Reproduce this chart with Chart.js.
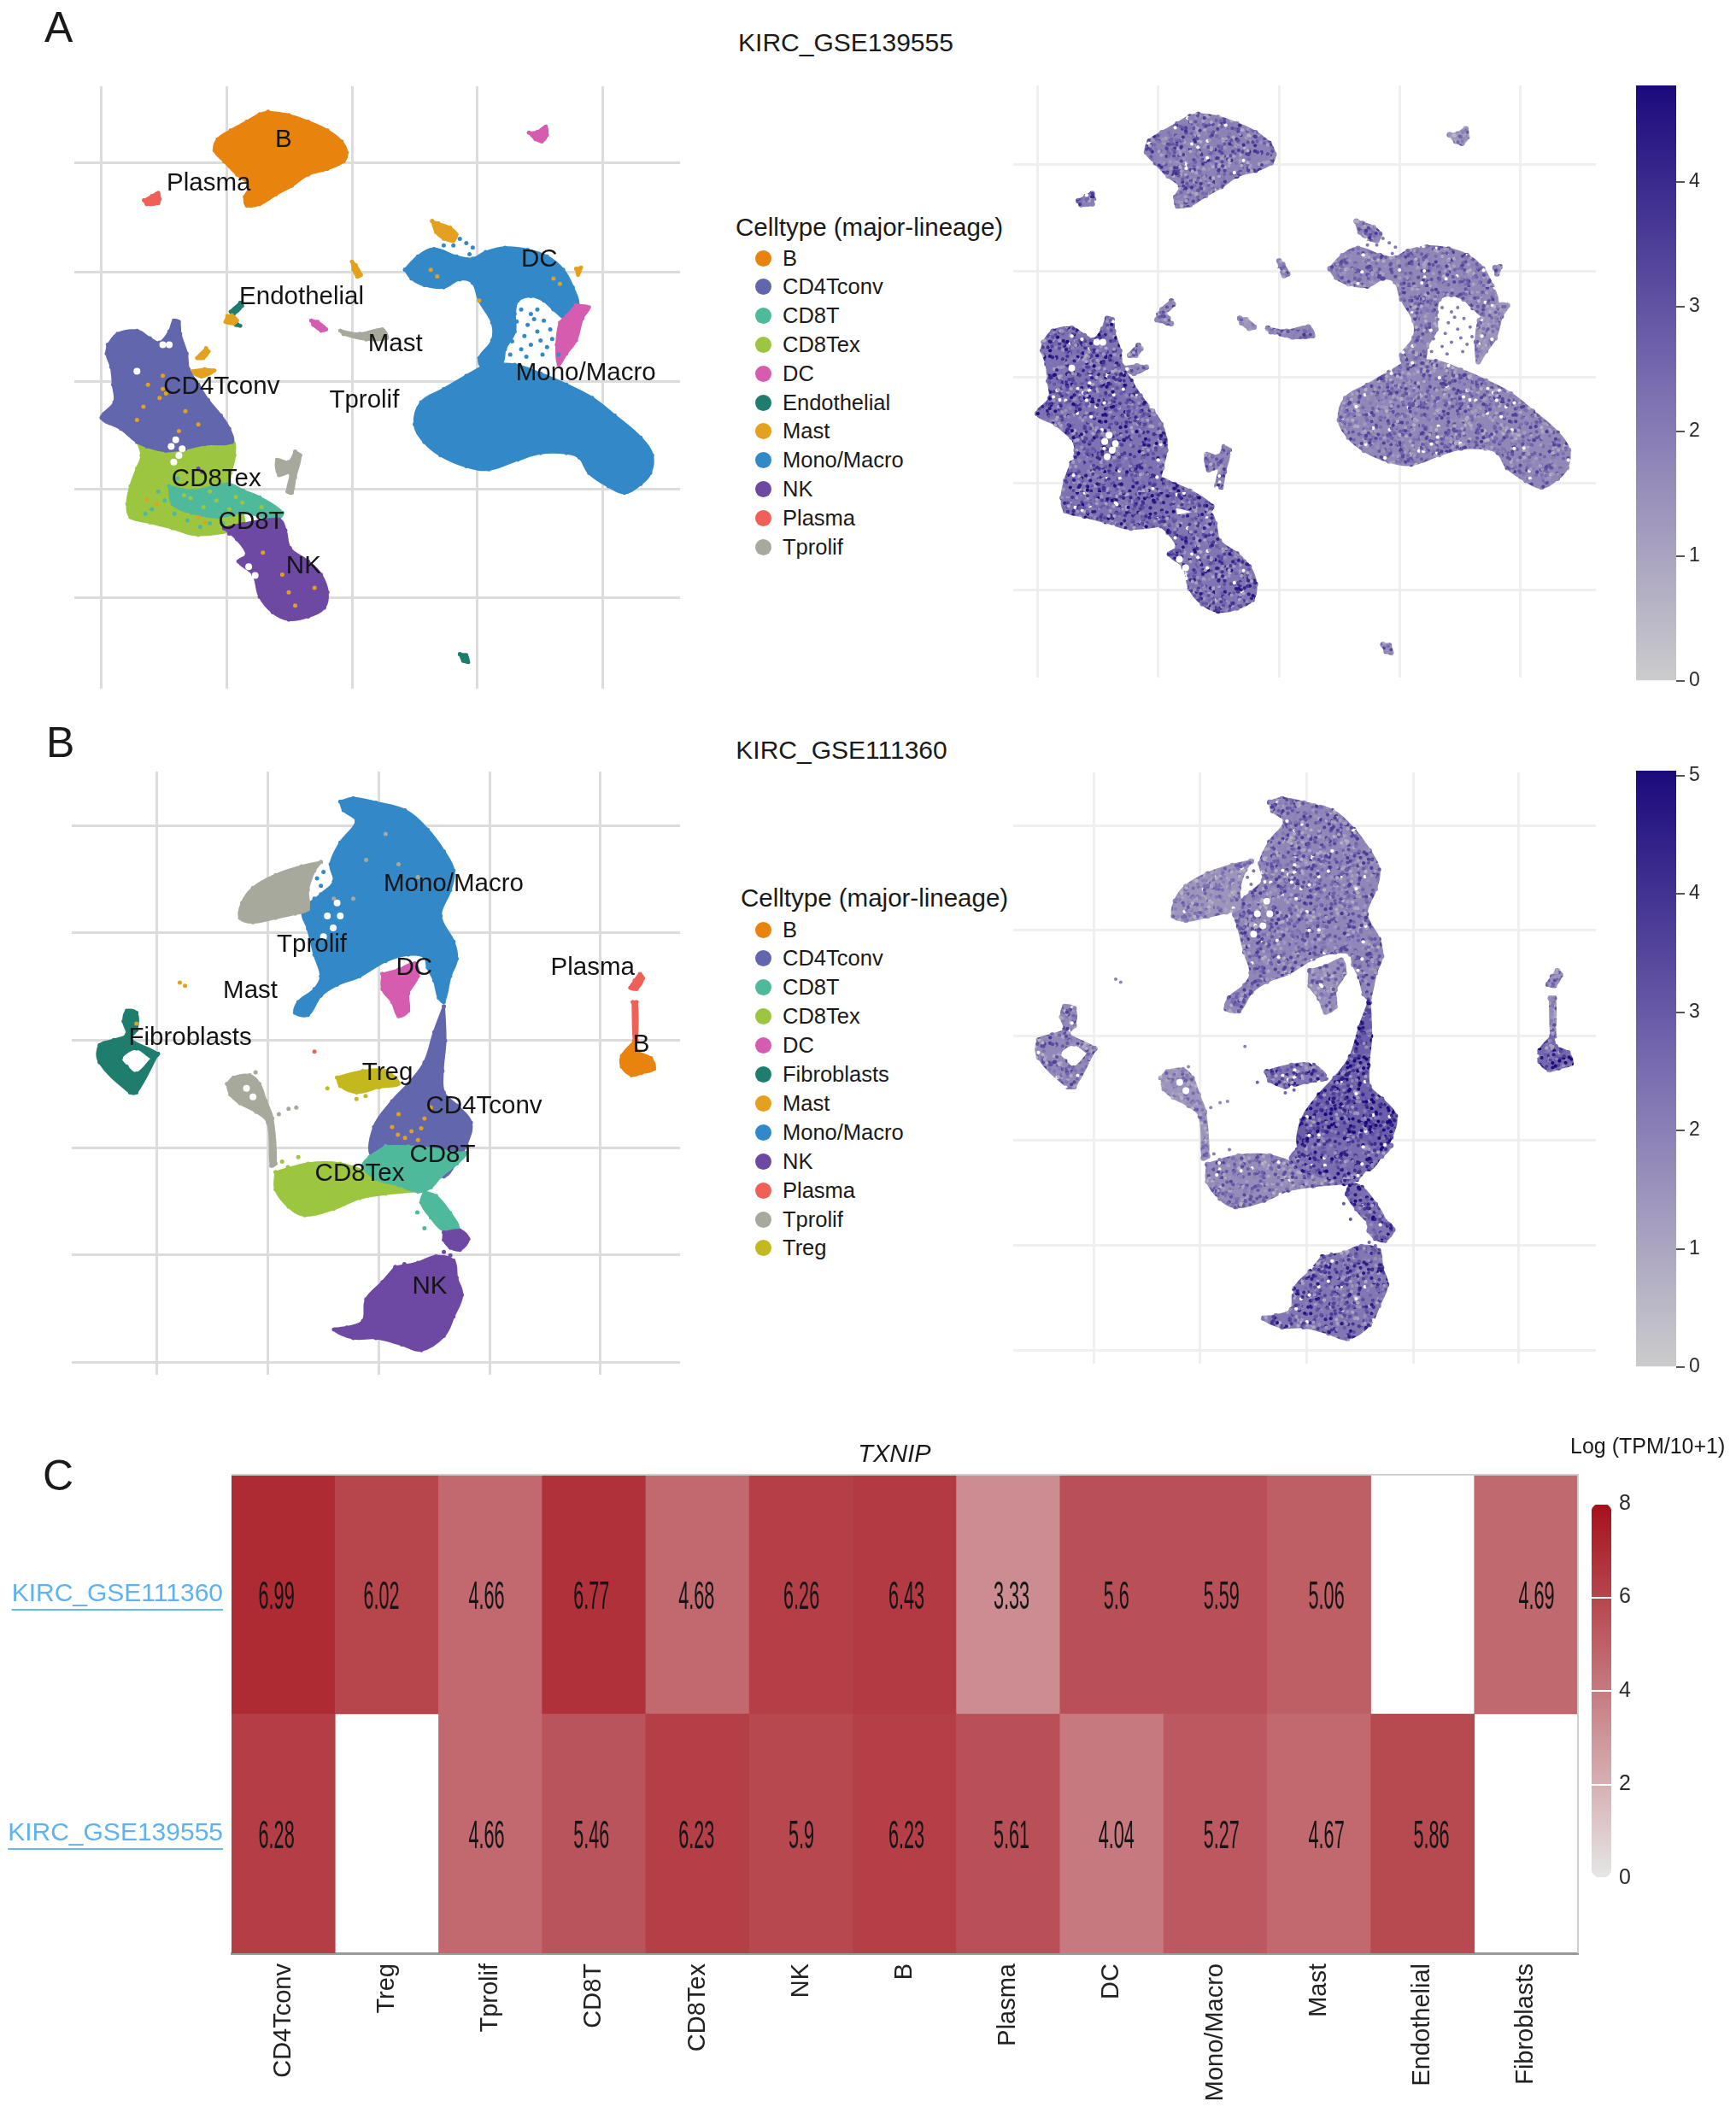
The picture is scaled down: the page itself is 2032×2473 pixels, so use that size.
<!DOCTYPE html>
<html>
<head>
<meta charset="utf-8">
<title>TXNIP</title>
<script src="https://cdn.jsdelivr.net/npm/chart.js@4"></script>
<style>
html, body { margin: 0; background: #fff; }
body { position: relative; width: 2032px; height: 2473px; overflow: hidden; font-family: "Liberation Sans", Arial, sans-serif; color: #1a1a1a; }
canvas { position: absolute; }
.txt { position: absolute; white-space: nowrap; line-height: 1; }
.letter { font-size: 50px; }
.title { font-size: 30px; transform: translateX(-50%); }
.dot { position: absolute; width: 19px; height: 19px; border-radius: 50%; }
</style>
</head>
<body>
<script>
// Axes carry no numbers in the figure, so the embedding is kept in arbitrary units (one grid cell = 194 x 246 in A, 171 x 249 in B)
const gridXA = [-388, -194, 0, 194, 388];
const gridYA = [494, 246, 0, -245, -491];
const gridXB = [-342, -171, 0, 172, 342];
const gridYB = [748, 499, 249, 0, -249, -498];

// ---- panel A outlines
const aB = [[-130,609],[-98,602],[-68,587],[-38,567],[-16,542],[-8,517],[-13,497],[-38,480],[-68,467],[-93,442],[-118,422],[-143,400],[-163,397],[-166,417],[-158,442],[-178,467],[-198,497],[-213,522],[-208,547],[-188,567],[-163,587],[-143,604]];
const aPlasma = [[-322,409],[-310,419],[-300,426],[-298,412],[-300,402],[-318,400]];
const aDcIsland = [[274,562],[287,564],[300,576],[302,557],[294,542],[284,547]];
const aMastTop = [[124,362],[134,357],[152,347],[162,332],[157,317],[142,322],[130,337]];
const aMastSliver = [[0,270],[6,262],[14,240],[8,236],[2,252]];
const aEndo = [[-173,177],[-170,170],[-183,152],[-188,157]];
const aEndoLow = [[-183,137],[-173,125],[-180,127]];
const aMastEndo = [[-193,147],[-186,149],[-178,137],[-183,130],[-196,134]];
const aDcLine = [[-63,137],[-53,134],[-40,117],[-48,114],[-60,127]];
const aTprolifLine = [[-18,114],[12,107],[47,117],[54,97],[22,94],[-13,106]];
const aMast3 = [[-226,74],[-222,67],[-230,52],[-240,52]];
const aMast4 = [[-228,27],[-213,24],[-233,10],[-248,22]];
const aCD4 = [[-378,82],[-363,107],[-333,114],[-313,97],[-298,87],[-283,112],[-276,137],[-268,134],[-266,107],[-256,62],[-253,27],[-238,-8],[-223,-43],[-203,-78],[-190,-108],[-186,-138],[-228,-143],[-258,-153],[-288,-158],[-318,-148],[-333,-138],[-358,-108],[-388,-83],[-368,-48],[-370,-8],[-373,32],[-380,62]];
const aCD8Tex = [[-333,-133],[-288,-153],[-228,-138],[-186,-133],[-182,-168],[-188,-208],[-193,-258],[-170,-300],[-170,-330],[-238,-348],[-278,-333],[-313,-320],[-343,-308],[-348,-278],[-343,-238],[-333,-198],[-326,-168]];
const aCD8T = [[-283,-238],[-248,-248],[-193,-233],[-168,-248],[-143,-263],[-108,-298],[-118,-313],[-168,-298],[-208,-308],[-248,-298],[-278,-278]];
const aNK = [[-198,-333],[-168,-323],[-113,-313],[-103,-338],[-96,-378],[-68,-408],[-48,-438],[-38,-478],[-43,-513],[-68,-533],[-98,-540],[-123,-523],[-143,-488],[-153,-438],[-176,-408],[-163,-393],[-178,-358]];
const aMonoArc = [[82,252],[102,282],[127,299],[162,282],[187,277],[207,292],[237,302],[272,297],[302,282],[327,252],[342,212],[350,172],[332,142],[312,162],[297,182],[277,192],[257,182],[252,152],[252,112],[237,72],[232,42],[202,32],[197,52],[217,92],[217,132],[197,182],[187,222],[167,230],[142,212],[112,217],[92,232]];
const aMonoLow = [[207,37],[252,37],[292,17],[332,-8],[372,-38],[407,-78],[447,-128],[465,-168],[462,-208],[447,-233],[422,-253],[397,-238],[367,-208],[352,-173],[332,-163],[292,-163],[257,-178],[212,-200],[177,-193],[137,-168],[112,-138],[97,-98],[107,-48],[142,-18],[177,12]];
const aDC = [[347,172],[367,167],[357,142],[347,92],[332,62],[320,37],[317,82],[322,132],[332,147]];
const aTprolif = [[-88,-160],[-80,-168],[-88,-218],[-93,-253],[-100,-250],[-96,-208],[-113,-213],[-116,-178],[-98,-183]];
const aTiny = [[347,254],[355,257],[350,240]];
const aTinyLow = [[167,-618],[177,-620],[180,-636],[172,-633]];
// single cells
const aMonoDots = [[262,162],[277,152],[287,162],[272,127],[287,112],[292,92],[277,82],[262,72],[297,137],[307,117],[302,77],[267,102],[245,60],[320,60],[167,322],[177,312],[187,302],[157,307],[182,287],[142,307],[282,140],[255,135],[295,60],[270,55],[310,95],[248,90]];
const aMastDots = [[-293,-18],[-316,-8],[-288,-28],[-323,-58],[-333,-88],[-258,-68],[-238,-98],[-268,-113],[-303,-278],[-318,-268],[-238,-308],[-228,-320],[-138,-388],[-98,-478],[-88,-508],[-58,-468],[-108,-438],[122,252],[132,237],[312,232],[322,220],[197,182],[-293,12],[-298,-38]];
const aGreenDots = [[-250,-265],[-210,-270],[-170,-275],[-230,-285],[-190,-290],[-260,-258],[-140,-285],[-220,-250],[-180,-262]];
const aTealDots = [[-300,-250],[-310,-290],[-275,-300],[-255,-315],[-220,-322],[-200,-322],[-320,-300],[-270,-220],[-290,-270],[-235,-330]];
const aNKDots = [[-238,-198],[-232,-205],[-176,-340],[-190,-345]];
const aEmpty = [[-273,-133],[-280,-148],[-268,-168],[-276,-183],[-263,-153],[-283,82],[-293,82],[-333,22],[-150,-440],[-160,-420]];

// ---- panel B outlines
const bMono = [[-59,803],[-39,811],[-4,801],[41,783],[76,738],[101,688],[116,643],[111,598],[96,538],[116,478],[121,438],[111,398],[101,338],[93,348],[86,388],[76,418],[71,443],[46,448],[11,433],[-29,398],[-64,378],[-89,353],[-109,308],[-129,313],[-124,338],[-99,368],[-89,398],[-99,448],[-109,508],[-117,548],[-89,588],[-69,618],[-74,658],[-59,708],[-34,758],[-54,783]];
const bTprolifTop = [[-89,663],[-99,643],[-109,598],[-109,553],[-129,543],[-159,533],[-194,523],[-214,533],[-211,568],[-194,603],[-159,633],[-119,653]];
const bDC = [[6,403],[31,413],[56,428],[61,398],[46,358],[46,318],[31,305],[21,338],[6,368]];
const bFibro = [[-341,218],[-374,128],[-384,128],[-431,198],[-431,238],[-409,250],[-389,263],[-394,293],[-389,318],[-374,313],[-374,273],[-384,253],[-341,218],[-349,208],[-374,230],[-398,208],[-389,188],[-374,172],[-349,208],[-341,218]];
const bTprolifLow = [[-234,148],[-224,163],[-199,168],[-184,148],[-174,108],[-164,68],[-159,-37],[-166,-42],[-171,58],[-189,83],[-214,103],[-229,123]];
const bTreg = [[-64,163],[-24,178],[11,178],[31,148],[1,140],[-34,128],[-59,143]];
const bCD4 = [[101,328],[103,248],[99,178],[101,128],[121,98],[143,58],[136,8],[121,-32],[101,-67],[81,-32],[41,-12],[-9,-22],[-7,48],[21,108],[46,148],[71,198],[86,268]];
const bCD8T = [[11,3],[46,3],[81,-2],[121,-12],[136,-12],[121,-37],[96,-67],[81,-92],[61,-102],[31,-87],[-4,-72],[-24,-42],[-14,-22]];
const bCD8Tex = [[-159,-57],[-109,-37],[-59,-37],[-9,-62],[21,-77],[61,-97],[11,-107],[-29,-117],[-69,-142],[-114,-157],[-139,-137],[-159,-97]];
const bCD8Ttail = [[71,-102],[89,-112],[111,-152],[123,-187],[101,-192],[81,-162],[66,-127]];
const bNKtop = [[101,-197],[126,-192],[139,-212],[126,-237],[111,-232],[101,-214]];
const bNK = [[26,-277],[61,-267],[89,-252],[116,-262],[121,-302],[129,-342],[116,-392],[101,-437],[66,-470],[36,-457],[-4,-442],[-39,-442],[-69,-422],[-49,-417],[-24,-402],[-19,-352],[6,-312]];
const bPlasma = [[396,388],[404,403],[409,393],[399,368],[389,371]];
const bPlasmaLine = [[393,338],[399,338],[399,248],[395,248]];
const bB = [[396,248],[401,223],[421,208],[426,183],[406,173],[391,168],[376,188],[376,213]];
// single cells
const bMastDots = [[-307,383],[-299,376],[-374,288],[71,68],[51,38],[21,48],[61,18],[31,78],[81,93],[41,23],[30,30],[66,45]];
const bNKDots = [[101,-242],[86,-257],[71,-272],[56,-285],[111,-250],[96,-265],[40,-270],[25,-290]];
const bTealDots = [[71,-187],[60,-150],[72,-140]];
const bTprolifDots = [[-154,78],[-139,90],[-127,93],[-190,175],[11,728],[-19,668],[31,658],[61,628],[-39,578],[-69,578]];
const bMonoDots = [[-89,608],[-99,578],[-104,538],[-85,640],[-95,625],[-92,555]];
const bTregDots = [[-34,113],[-79,138],[-20,120]];
const bGreenDots = [[-149,-32],[-124,-22],[-140,-45]];
const bPlasmaDots = [[-99,223]];
const bEmpty = [[-64,568],[-59,538],[-79,538],[-204,138],[-194,118],[-70,510],[-85,490]];

// ---- cell type names and colours
const typesA = ['B','CD4Tconv','CD8T','CD8Tex','DC','Endothelial','Mast','Mono/Macro','NK','Plasma','Tprolif'];
const typesB = ['B','CD4Tconv','CD8T','CD8Tex','DC','Fibroblasts','Mast','Mono/Macro','NK','Plasma','Tprolif','Treg'];
const typeColors = { 'B':'#e8830e', 'CD4Tconv':'#6166ad', 'CD8T':'#4fb99b', 'CD8Tex':'#9cc63f', 'DC':'#d65cb0', 'Endothelial':'#1f7d6d', 'Fibroblasts':'#1f7d6d', 'Mast':'#e3a11f', 'Mono/Macro':'#3389c8', 'NK':'#6e49a3', 'Plasma':'#ef6158', 'Tprolif':'#a8a99d', 'Treg':'#c4b81f' };
// mean expression shown by each cluster in the right hand panels
const levelsA = { 'B':2.3, 'CD4Tconv':2.8, 'CD8T':2.8, 'CD8Tex':2.8, 'DC':1.7, 'Endothelial':2, 'Mast':2.2, 'Mono/Macro':2.1, 'NK':2.7, 'Plasma':2.4, 'Tprolif':2.2 };
const levelsB = { 'B':3.3, 'CD4Tconv':3.6, 'CD8T':3.1, 'CD8Tex':2.1, 'DC':2, 'Fibroblasts':2.2, 'Mast':2, 'Mono/Macro':2.3, 'NK':2.8, 'Plasma':2, 'Tprolif':1.8, 'Treg':2.8 };

const partsA = [['Mono/Macro',aMonoArc],['Mono/Macro',aMonoLow],['DC',aDC],['B',aB],['Plasma',aPlasma],['DC',aDcIsland],['Mast',aMastTop],['Mast',aMastSliver],['Endothelial',aEndo],['Endothelial',aEndoLow],['Mast',aMastEndo],['DC',aDcLine],['Tprolif',aTprolifLine],['Mast',aMast3],['Mast',aMast4],['CD8Tex',aCD8Tex],['CD8T',aCD8T],['CD4Tconv',aCD4],['NK',aNK],['Tprolif',aTprolif],['Mast',aTiny],['Endothelial',aTinyLow]];
const dotsA = [['Mono/Macro',aMonoDots],['Mast',aMastDots],['CD8Tex',aGreenDots],['CD8T',aTealDots],['NK',aNKDots]];
const partsB = [['Mono/Macro',bMono],['Tprolif',bTprolifTop],['DC',bDC],['Fibroblasts',bFibro],['Tprolif',bTprolifLow],['Treg',bTreg],['CD4Tconv',bCD4],['CD8Tex',bCD8Tex],['CD8T',bCD8T],['CD8T',bCD8Ttail],['NK',bNKtop],['NK',bNK],['Plasma',bPlasma],['Plasma',bPlasmaLine],['B',bB]];
const dotsB = [['Mast',bMastDots],['NK',bNKDots],['CD8T',bTealDots],['Tprolif',bTprolifDots],['Mono/Macro',bMonoDots],['Treg',bTregDots],['CD8Tex',bGreenDots],['Plasma',bPlasmaDots]];

// cluster labels on the left panels
const labelNamesA = ['B','Plasma','DC','Endothelial','Mast','Mono/Macro','Tprolif','CD4Tconv','CD8Tex','CD8T','NK'];
const labelXA = [-106,-222,290,-78,67,362,19,-202,-210,-156,-75];
const labelYA = [545,447,274,189,84,17,-45,-13,-223,-318,-420];
const labelNamesB = ['Mono/Macro','Tprolif','DC','Plasma','Mast','Fibroblasts','B','Treg','CD4Tconv','CD8T','CD8Tex','NK'];
const labelXB = [116,-103,55,331,-198,-291,406,14,163,99,-29,79];
const labelYB = [611,470,418,418,363,255,238,173,96,-17,-60,-322];

// ---- heatmap
const heatCategories = ['CD4Tconv','Treg','Tprolif','CD8T','CD8Tex','NK','B','Plasma','DC','Mono/Macro','Mast','Endothelial','Fibroblasts'];
const heatRows = ['KIRC_GSE139555','KIRC_GSE111360'];
const gse111360 = [6.99,6.02,4.66,6.77,4.68,6.26,6.43,3.33,5.6,5.59,5.06,null,4.69];
const gse139555 = [6.28,null,4.66,5.46,6.23,5.9,6.23,5.61,4.04,5.27,4.67,5.86,null];
const heatTicks = [0,2,4,6,8];
const expTicksA = [0,1,2,3,4];
const expTicksB = [0,1,2,3,4,5];

function mix(a, b, t) {
  return 'rgb(' + a.map((v, i) => Math.round(v + (b[i] - v) * t)).join(',') + ')';
}
function heatColor(v) { return mix([230,230,230], [166,16,26], v / 8); }
// same three stops as the colour bars
function expColor(v, max) {
  const t = Math.min(Math.max(v / max, 0), 1);
  return t < 0.5 ? mix([204,204,204], [122,108,176], t * 2) : mix([122,108,176], [27,10,124], (t - 0.5) * 2);
}

// speckle texture standing in for the mix of low and high cells of a cluster
function hash(n) { const s = Math.sin(n * 12.9898) * 43758.5453; return s - Math.floor(s); }
function speckle(level, max) {
  const size = 240;
  const tile = document.createElement('canvas');
  tile.width = size; tile.height = size;
  const c = tile.getContext('2d');
  c.fillStyle = expColor(level * 0.8, max);
  c.fillRect(0, 0, size, size);
  for (let i = 0; i < 3400; i++) {
    const h = hash(i * 3 + 3);
    let fillCol;
    if (h < 0.03) fillCol = '#ffffff';
    else fillCol = expColor(level * (0.25 + h * 1.45), max);
    const x = hash(i * 3 + 1) * size, y = hash(i * 3 + 2) * size;
    c.fillStyle = fillCol;
    c.beginPath();
    c.arc(x, y, 2.1, 0, Math.PI * 2);
    c.fill();
  }
  return c.createPattern(tile, 'repeat');
}

function toXY(list) { return list.map(p => ({ x: p[0], y: p[1] })); }

function umapDatasets(parts, dots, empty, dotColor, fillOf, rim, dotSize) {
  const sets = [];
  let order = parts.length + 10;
  parts.forEach(part => {
    const pts = toXY(part[1]);
    pts.push(pts[0]);
    const look = fillOf(part[0]);
    sets.push({ label: part[0], data: pts, showLine: true, fill: 'shape', tension: 0.38, order: order--,
      backgroundColor: look, borderColor: look, borderWidth: rim,
      pointRadius: rim * 0.8, pointBackgroundColor: look, pointBorderWidth: 0 });
  });
  sets.push({ label: 'empty', data: toXY(empty), order: 2, pointRadius: 4, pointBackgroundColor: '#fff', pointBorderWidth: 0 });
  dots.forEach(d => {
    sets.push({ label: d[0], data: toXY(d[1]), order: 1, pointRadius: dotSize, pointBackgroundColor: dotColor(d[0]), pointBorderWidth: 0 });
  });
  return sets;
}

const clusterLabels = {
  id: 'clusterLabels',
  afterDatasetsDraw(chart, args, opts) {
    if (!opts.names) return;
    const c = chart.ctx;
    c.save();
    c.font = '29.5px "Liberation Sans"';
    c.fillStyle = '#141414';
    c.textAlign = 'center';
    c.textBaseline = 'middle';
    opts.names.forEach((n, i) => {
      c.fillText(n, chart.scales.x.getPixelForValue(opts.xs[i]), chart.scales.y.getPixelForValue(opts.ys[i]));
    });
    c.restore();
  }
};

function addCanvas(left, top, w, h) {
  const cv = document.createElement('canvas');
  cv.width = w; cv.height = h;
  cv.style.left = left + 'px';
  cv.style.top = top + 'px';
  cv.style.width = w + 'px';
  cv.style.height = h + 'px';
  document.body.appendChild(cv);
  return cv;
}

function addText(cls, str, left, top, style) {
  const d = document.createElement('div');
  d.className = 'txt ' + cls;
  d.textContent = str;
  d.style.left = left + 'px';
  d.style.top = top + 'px';
  if (style) Object.assign(d.style, style);
  document.body.appendChild(d);
}

function umapChart(box, range, gridX, gridY, gridColor, sets, labels) {
  const axis = (min, max, ticks) => ({
    type: 'linear', min: min, max: max,
    afterBuildTicks: s => { s.ticks = ticks.map(v => ({ value: v })); },
    ticks: { display: false },
    border: { display: false },
    grid: { color: gridColor, lineWidth: 3, drawTicks: false }
  });
  return new Chart(addCanvas(box[0], box[1], box[2], box[3]), {
    type: 'scatter',
    data: { datasets: sets },
    options: {
      responsive: false, animation: false,
      layout: { padding: 0 },
      plugins: { legend: { display: false }, tooltip: { enabled: false }, clusterLabels: labels || {} },
      scales: { x: axis(range[0], range[1], gridX), y: axis(range[2], range[3], gridY) }
    },
    plugins: [clusterLabels]
  });
}

function colorBar(box, max, ticks, stops, tickFont, opt) {
  return new Chart(addCanvas(box[0], box[1], box[2], box[3]), {
    type: 'bar',
    data: { labels: ['scale'], datasets: [{
      data: [[0, max]],
      barPercentage: 1, categoryPercentage: 1,
      borderRadius: opt.radius, borderSkipped: false,
      backgroundColor: ctx => {
        const a = ctx.chart.chartArea;
        if (!a) return stops[0];
        const g = ctx.chart.ctx.createLinearGradient(0, a.bottom, 0, a.top);
        stops.forEach((s, i) => g.addColorStop(i / (stops.length - 1), s));
        return g;
      }
    }] },
    options: {
      responsive: false, animation: false,
      layout: { padding: { top: 20, bottom: 20 } },
      plugins: { legend: { display: false }, tooltip: { enabled: false } },
      scales: {
        x: { display: false },
        y: {
          position: 'right', min: 0, max: max,
          afterBuildTicks: s => { s.ticks = ticks.map(v => ({ value: v })); },
          afterFit: s => { s.width = opt.axisWidth; },
          border: { display: false },
          ticks: { font: { family: 'Liberation Sans', size: tickFont }, color: '#2b2b2b', padding: opt.padding },
          grid: opt.grid
        }
      }
    }
  });
}

// ---- left panels
const solid = n => typeColors[n];
umapChart([83, 97, 717, 713], [-430, 508, -696, 667], gridXA, gridYA, '#dcdcdc',
  umapDatasets(partsA, dotsA, aEmpty, solid, solid, 3, 2.5),
  { names: labelNamesA, xs: labelXA, ys: labelYA });
umapChart([80, 899, 720, 714], [-474, 466, -527, 873], gridXB, gridYB, '#dcdcdc',
  umapDatasets(partsB, dotsB, bEmpty, solid, solid, 3, 2.5),
  { names: labelNamesB, xs: labelXB, ys: labelYB });

// ---- right panels, same embedding coloured by TXNIP
const maxA = 4.77, maxB = 5.04;
const patA = {}, patB = {};
typesA.forEach(n => { patA[n] = speckle(levelsA[n], maxA); });
typesB.forEach(n => { patB[n] = speckle(levelsB[n], maxB); });
umapChart([1182, 96, 690, 701], [-427, 509, -694, 676], gridXA, gridYA, '#efefef',
  umapDatasets(partsA, dotsA, aEmpty, n => expColor(levelsA[n], maxA), n => patA[n], 4, 2),
  null);
umapChart([1182, 900, 690, 700], [-472, 466, -530, 874], gridXB, gridYB, '#efefef',
  umapDatasets(partsB, dotsB, bEmpty, n => expColor(levelsB[n], maxB), n => patB[n], 4, 2),
  null);

// ---- colour bars of the right panels
const purpleStops = ['#cccccc', '#7a6cb0', '#1b0a7c'];
const markGrid = { drawOnChartArea: false, drawTicks: true, tickLength: 10, tickColor: '#555', tickWidth: 2, lineWidth: 2, color: '#555' };
colorBar([1915, 80, 95, 737], maxA, expTicksA, purpleStops, 23, { radius: 0, axisWidth: 48, padding: 5, grid: markGrid });
colorBar([1915, 882, 95, 738], maxB, expTicksB, purpleStops, 23, { radius: 0, axisWidth: 48, padding: 5, grid: markGrid });

// ---- heatmap
const valueText = {
  id: 'valueText',
  afterDatasetsDraw(chart) {
    const c = chart.ctx;
    chart.data.datasets.forEach((ds, i) => {
      chart.getDatasetMeta(i).data.forEach((bar, k) => {
        if (ds.values[k] === null) return;
        c.save();
        // the numbers drift right of the cell centres in the figure
        c.translate(bar.x - 8 + k * 1.67, (bar.y + bar.base) / 2 + 4);
        c.scale(0.46, 1);
        c.font = '47px "Liberation Sans"';
        c.fillStyle = '#151515';
        c.textAlign = 'center';
        c.textBaseline = 'middle';
        c.fillText(String(ds.values[k]), 0, 0);
        c.restore();
      });
    });
    const a = chart.chartArea;
    c.save();
    c.strokeStyle = '#cfcfcf';
    c.lineWidth = 2;
    c.beginPath();
    c.moveTo(a.left, a.top); c.lineTo(a.right, a.top); c.lineTo(a.right, a.bottom);
    c.stroke();
    // the dataset names are links in the original
    c.strokeStyle = '#6ab8f0';
    c.font = '30px "Liberation Sans"';
    chart.scales.y.ticks.forEach(t => {
      const w = c.measureText(t.label).width;
      const y = chart.scales.y.getPixelForValue(t.value) + 18;
      c.beginPath();
      c.moveTo(a.left - 10 - w, y); c.lineTo(a.left - 10, y);
      c.stroke();
    });
    c.restore();
  }
};

function rowDataset(values, low) {
  return {
    values: values,
    data: values.map(v => v === null ? null : [low, low + 1]),
    backgroundColor: values.map(v => v === null ? '#fff' : heatColor(v)),
    barPercentage: 1, categoryPercentage: 1, grouped: false
  };
}

new Chart(addCanvas(0, 1696, 1848, 777), {
  type: 'bar',
  data: { labels: heatCategories, datasets: [rowDataset(gse139555, 0), rowDataset(gse111360, 1)] },
  options: {
    responsive: false, animation: false,
    layout: { padding: { top: 30, right: 1 } },
    plugins: { legend: { display: false }, tooltip: { enabled: false } },
    scales: {
      x: {
        grid: { display: false, drawTicks: false },
        border: { color: '#9a9a9a', width: 3 },
        afterFit: s => { s.height = 187; },
        ticks: { minRotation: 90, maxRotation: 90, autoSkip: false, padding: 12, color: '#222', font: { family: 'Liberation Sans', size: 29 } }
      },
      y: {
        min: 0, max: 2,
        afterBuildTicks: s => { s.ticks = [{ value: 0.5 }, { value: 1.5 }]; },
        afterFit: s => { s.width = 271; },
        grid: { display: false, drawTicks: false },
        border: { display: false },
        ticks: { padding: 10, color: '#5fb2ee', font: { family: 'Liberation Sans', size: 30 }, callback: v => heatRows[v > 1 ? 1 : 0] }
      }
    }
  },
  plugins: [valueText]
});

colorBar([1863, 1736, 70, 486], 8.0, heatTicks, ['#e6e6e6', '#a6101a'], 25,
  { radius: 10, axisWidth: 47, padding: 9, grid: { drawTicks: false, z: 1, color: '#ffffff', lineWidth: 2 } });

// ---- titles and legends
addText('letter', 'A', 52, 7);
addText('letter', 'B', 54, 844);
addText('letter', 'C', 50, 1702);
addText('title', 'KIRC_GSE139555', 990, 35);
addText('title', 'KIRC_GSE111360', 985, 863);
addText('title', 'TXNIP', 1047, 1687, { fontStyle: 'italic', fontSize: '29px' });
addText('', 'Log (TPM/10+1)', 1838, 1680, { fontSize: '25px' });

function addLegend(names, titleX, titleY, firstY, step) {
  addText('', 'Celltype (major-lineage)', titleX, titleY - 15, { fontSize: '29.5px' });
  names.forEach((n, i) => {
    const y = firstY + i * step;
    const dot = document.createElement('div');
    dot.className = 'dot';
    dot.style.left = '884px';
    dot.style.top = (y - 9.5) + 'px';
    dot.style.background = typeColors[n];
    document.body.appendChild(dot);
    addText('', n, 916, y - 12.5, { fontSize: '25.5px' });
  });
}
addLegend(typesA, 861, 266, 302, 33.8);
addLegend(typesB, 867, 1051, 1088, 33.9);
</script>
</body>
</html>
